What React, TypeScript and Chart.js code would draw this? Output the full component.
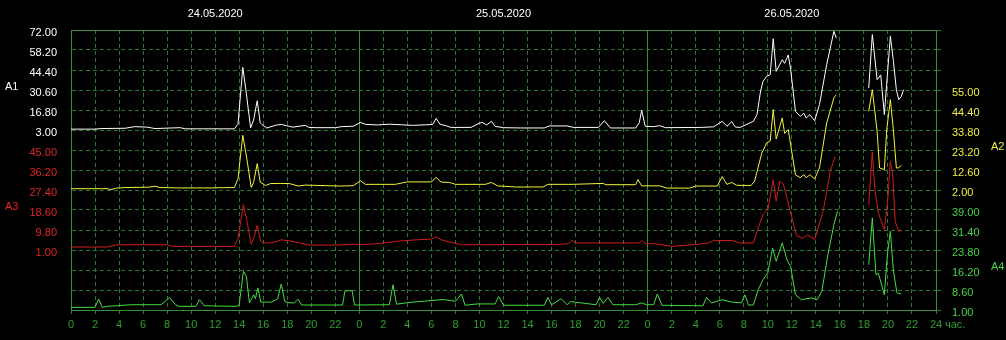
import React, { useEffect, useRef } from 'react';
import { Chart, registerables } from 'chart.js';

Chart.register(...registerables);

// ---------- text ----------
const dates = ['24.05.2020', '25.05.2020', '26.05.2020'];
const unitLabel = 'час.';
const hoursPerDay = 24;
const totalHours = 72;

// ---------- axis tick labels (top to bottom of each band) ----------
const a1Ticks = [72.0, 58.2, 44.4, 30.6, 16.8, 3.0];
const a2Ticks = [55.0, 44.4, 33.8, 23.2, 12.6, 2.0];
const a3Ticks = [45.0, 36.2, 27.4, 18.6, 9.8, 1.0];
const a4Ticks = [39.0, 31.4, 23.8, 16.2, 8.6, 1.0];

// ---------- series data ----------
const a1Hours = [0, 2, 2.5, 4.5, 5.3, 6.3, 7, 9.1, 9.5, 13.6, 13.9, 14.3, 14.6, 14.95, 15.2, 15.5, 15.75, 15.9, 16.3, 17, 17.5, 18.2, 18.5, 19.5, 19.8, 20.4, 22, 22.5, 23.5, 24.1, 24.5, 25.5, 26.5, 27.5, 28.5, 29.5, 30.1, 30.4, 30.7, 31.2, 31.6, 33.3, 33.8, 34.2, 34.6, 35, 35.3, 36, 37.5, 39.4, 39.8, 41.3, 41.8, 43.9, 44.4, 44.9, 47, 47.3, 47.5, 47.8, 48.5, 49, 49.5, 52.5, 53.5, 54.2, 54.6, 55, 55.3, 55.7, 56.8, 57.1, 57.4, 57.6, 57.9, 58.2, 58.45, 58.7, 59.2, 59.4, 59.7, 59.9, 60.3, 60.7, 61, 61.2, 61.5, 61.9, 62.3, 62.9, 63.5, 63.7, 65, 66.4, 66.7, 67.1, 67.4, 67.7, 68.2, 68.45, 68.7, 68.9, 69.1, 69.3];
const a1Values = [3.6, 3.6, 4.0, 4.2, 5.3, 5.0, 4.0, 4.6, 3.8, 3.8, 7, 46.2, 28, 4.4, 10, 23.2, 8, 6.7, 4.4, 6.2, 6.9, 5.4, 5.0, 6.2, 4.8, 4.6, 4.6, 5.3, 5.6, 8.3, 6.9, 6.5, 7.0, 6.6, 6.2, 6.6, 6.8, 11, 7, 6.0, 4.8, 4.8, 7, 8.3, 6.5, 9, 5.5, 4.6, 4.4, 4.4, 5.8, 5.8, 4.8, 4.8, 9.4, 4.4, 4.4, 8, 16.6, 5.5, 5.3, 6.0, 4.6, 4.8, 5.2, 9, 5.5, 8.8, 5, 4.8, 9, 13.6, 30, 36.6, 40, 41.2, 66, 43.5, 51.5, 49, 54.8, 45, 15.9, 12.4, 14.6, 11.3, 13.6, 9.4, 20.5, 48.1, 71.1, 66.5, null, 32, 68.8, 37.7, 41, 13.6, 67.7, 51, 30.8, 23.9, 26, 30.8];

const a2Hours = [0, 3, 3.3, 3.8, 4.5, 6.5, 7, 7.4, 9, 11.5, 13.6, 13.9, 14.3, 14.6, 15, 15.2, 15.5, 15.75, 16.2, 16.6, 17.4, 18.2, 18.9, 19.5, 22.4, 23.5, 24.1, 24.5, 27, 28, 30, 30.4, 30.8, 31.5, 32, 34.5, 35, 35.5, 37, 39.3, 39.7, 41.8, 44.3, 44.5, 47, 47.2, 47.5, 49, 49.6, 51.5, 52, 53.8, 54.2, 54.6, 55, 55.4, 56.6, 56.9, 57.5, 57.9, 58.2, 58.45, 58.7, 59.2, 59.4, 59.7, 60.3, 60.7, 61, 61.2, 61.5, 61.9, 62.3, 62.9, 63.5, 63.7, 65, 66.4, 66.7, 67.1, 67.3, 67.7, 67.9, 68.2, 68.45, 68.7, 68.9, 69.1];
const a2Values = [2.7, 2.7, 2.2, 3.0, 3.3, 3.5, 4.0, 3.3, 3.1, 3.1, 3.3, 8, 31, 20, 3.4, 6, 16, 6.2, 4.4, 5.4, 5.5, 5.4, 4.1, 4.6, 4.1, 4.3, 6.9, 5.0, 5.0, 6.3, 6.3, 8.7, 6.2, 6.0, 5.0, 5.0, 6.0, 4.2, 3.6, 3.6, 5.0, 5.0, 5.5, 4.8, 4.8, 7.5, 4.2, 4.2, 3.0, 3.0, 4.1, 4.1, 9.1, 5, 6, 4.5, 4.4, 6.7, 21.6, 26.9, 28, 44.6, 29, 40.2, 32, 34, 10.1, 8.5, 10.1, 8.5, 10.1, 7.9, 13.7, 37.5, 50.8, 52.5, null, 43.7, 55.2, 33, 13.7, 12.8, 34, 49.9, 34, 13.7, 13.7, 15.1];

const a3Hours = [0, 3, 3.8, 8, 8.5, 13.6, 13.9, 14.35, 14.6, 15, 15.2, 15.5, 15.8, 16.2, 16.8, 17.5, 18.2, 19.1, 19.8, 22.4, 23.5, 24, 25, 26, 27.5, 28.8, 30, 30.4, 30.8, 31.5, 32.5, 37, 40.5, 41.4, 41.7, 42, 47.3, 47.5, 47.8, 48.5, 50, 51.5, 53, 53.5, 55, 55.7, 56.8, 57.2, 57.6, 58, 58.45, 58.7, 59, 59.3, 59.8, 60.4, 60.9, 61.3, 61.9, 62.6, 63.2, 63.6, 65, 66.4, 66.7, 66.9, 67.2, 67.7, 68, 68.2, 68.4, 68.6, 68.9, 69.1];
const a3Values = [2.3, 2.3, 3.3, 3.3, 2.6, 2.6, 6, 20.9, 15, 3.6, 6, 11.9, 4.7, 4.0, 4.3, 5.5, 5.0, 4.0, 3.2, 3.2, 3.6, 3.4, 3.6, 4.1, 5.0, 5.5, 5.8, 6.9, 5.5, 4.5, 3.3, 3.4, 3.4, 3.8, 5.3, 4.1, 4.1, 5.1, 3.8, 3.8, 2.6, 3.2, 4.0, 5.1, 5.2, 4.1, 4.1, 10.7, 16.6, 18.7, 31.9, 22.5, 31.2, 30, 19.5, 7.2, 6.2, 7.7, 5.6, 18, 35.6, 42.2, null, 20.9, 44.1, 28, 17.3, 9.9, 24, 40, 34, 13.6, 9.2, 9.5];

const a4Hours = [0, 2, 2.3, 2.6, 3, 5, 7.5, 8.2, 8.7, 9, 10.4, 10.7, 11.1, 13.8, 14, 14.35, 14.6, 14.85, 15.2, 15.35, 15.55, 15.8, 16.7, 17.2, 17.5, 17.8, 18.2, 18.6, 18.9, 19.2, 22.6, 22.8, 23.4, 23.6, 26.5, 26.8, 27.1, 28, 30, 31, 32, 32.5, 32.8, 33.8, 35.3, 35.6, 36, 39.4, 39.7, 40, 40.8, 41.3, 41.6, 43.7, 44, 44.3, 44.7, 45.1, 47, 47.5, 47.9, 48.5, 48.8, 49.2, 52.6, 52.9, 53.3, 54.2, 55, 55.8, 56.1, 56.4, 56.8, 57.2, 57.6, 58, 58.4, 58.7, 59.2, 59.6, 59.9, 60.3, 60.8, 61.6, 62.1, 62.5, 63, 63.5, 63.8, 65, 66.4, 66.7, 67, 67.2, 67.7, 67.95, 68.2, 68.45, 68.75, 69.1];
const a4Values = [2.0, 2.0, 5.2, 2.0, 2.4, 3.0, 3.0, 5.8, 3.0, 2.4, 2.4, 4.9, 2.6, 2.4, 3.0, 15.7, 13.8, 3.7, 6.8, 5.3, 9.4, 4.0, 4.0, 5.2, 10.9, 4.2, 3.7, 3.7, 5.1, 2.9, 2.9, 8.3, 8.3, 2.9, 3.0, 10.6, 3.2, 3.8, 4.6, 5.0, 4.3, 7.1, 2.8, 3.3, 3.3, 6.1, 2.8, 2.8, 5.8, 3.0, 5.3, 3.0, 4.2, 3.0, 5.8, 3.5, 5.8, 3.0, 3.0, 3.7, 3.0, 3.0, 7.1, 2.8, 2.6, 5.8, 3.7, 4.9, 4.0, 3.7, 6.8, 2.8, 3.0, 8.7, 12.5, 15.1, 24.6, 19.5, 26.5, 20, 17.5, 6.8, 4.9, 5.6, 4.9, 8.1, 22, 33.4, 38.5, null, 18.2, 36, 14.4, 15, 6.8, 22, 30.9, 16, 7.5, 7.1];

// ---------- styling ----------
const GRID_STEPS = 14;
const FONT_FAMILY = '"Liberation Sans", Arial, sans-serif';
const FONT_SIZE = 11;
const gridGreen = '#2d7a2d';
const borderGreen = '#3a8f3a';
const axisTextGreen = '#2f9f2f';

const series = [
  { name: 'A1', hours: a1Hours, values: a1Values, ticks: a1Ticks, top: 14, side: 'left', line: '#ffffff', text: '#ffffff' },
  { name: 'A2', hours: a2Hours, values: a2Values, ticks: a2Ticks, top: 11, side: 'right', line: '#f4f43c', text: '#f0f040' },
  { name: 'A3', hours: a3Hours, values: a3Values, ticks: a3Ticks, top: 8, side: 'left', line: '#d01c1c', text: '#e02424' },
  { name: 'A4', hours: a4Hours, values: a4Values, ticks: a4Ticks, top: 5, side: 'right', line: '#44dd44', text: '#44d444' },
];

function rangeFor(ticks: number[], top: number) {
  const step = ticks[0] - ticks[1];
  const max = ticks[0] + (GRID_STEPS - top) * step;
  return { min: max - GRID_STEPS * step, max };
}

function bandLabel(side: string, g: number) {
  for (const s of series) {
    if (s.side !== side) continue;
    const idx = s.top - g;
    if (idx >= 0 && idx < s.ticks.length) return { text: s.ticks[idx].toFixed(2), color: s.text };
  }
  return { text: '', color: 'transparent' };
}

const sideLabelPlugin = {
  id: 'sideLabels',
  afterDraw(chart: any) {
    const { ctx, scales } = chart;
    const yL = scales.yL;
    const x = scales.x;
    ctx.save();
    ctx.font = `${FONT_SIZE}px ${FONT_FAMILY}`;
    ctx.textBaseline = 'middle';
    ctx.textAlign = 'left';
    for (const s of series) {
      ctx.fillStyle = s.text;
      const y = yL.getPixelForValue(s.top - 3) - 3;
      ctx.fillText(s.name, s.side === 'left' ? 5 : chart.width - 15, y);
    }
    ctx.fillStyle = axisTextGreen;
    ctx.fillText(unitLabel, x.getPixelForValue(totalHours) + 9, x.top + 15);
    ctx.restore();
  },
};

export default function App() {
  const canvasRef = useRef<HTMLCanvasElement | null>(null);

  useEffect(() => {
    const canvas = canvasRef.current;
    if (!canvas) return;

    const datasets = series.map((s) => ({
      label: s.name,
      data: s.hours.map((h, i) => ({ x: h, y: s.values[i] })),
      borderColor: s.line,
      backgroundColor: s.line,
      borderWidth: 1,
      pointRadius: 0,
      tension: 0,
      spanGaps: false,
      yAxisID: 's' + s.name,
    }));

    const hiddenScales: any = {};
    for (const s of series) {
      const r = rangeFor(s.ticks, s.top);
      hiddenScales['s' + s.name] = { type: 'linear', display: false, min: r.min, max: r.max };
    }

    const font = { family: FONT_FAMILY, size: FONT_SIZE };

    const chart = new Chart(canvas, {
      type: 'line',
      data: { datasets },
      plugins: [sideLabelPlugin],
      options: {
        animation: false,
        responsive: false,
        maintainAspectRatio: false,
        devicePixelRatio: 1,
        layout: { padding: 0 },
        plugins: { legend: { display: false }, tooltip: { enabled: false } },
        scales: {
          x: {
            type: 'linear',
            position: 'bottom',
            min: 0,
            max: totalHours,
            afterFit: (sc: any) => { sc.height = 30; },
            ticks: {
              stepSize: 2,
              autoSkip: false,
              maxRotation: 0,
              padding: 4,
              color: axisTextGreen,
              font,
              callback: (v: any) => (v === totalHours ? String(hoursPerDay) : String(v % hoursPerDay)),
            },
            grid: { color: gridGreen, lineWidth: 1, drawTicks: true, tickLength: 4, tickColor: gridGreen },
            border: { display: true, color: borderGreen, dash: [4, 3] },
          },
          xTop: {
            type: 'linear',
            position: 'top',
            min: 0,
            max: totalHours,
            afterFit: (sc: any) => { sc.height = 30; },
            afterBuildTicks: (sc: any) => {
              const t = [];
              for (let v = 0; v <= totalHours; v += hoursPerDay / 2) t.push({ value: v });
              sc.ticks = t;
            },
            ticks: {
              autoSkip: false,
              maxRotation: 0,
              padding: 9,
              color: '#ffffff',
              font,
              callback: (v: any) => (v % hoursPerDay === hoursPerDay / 2 ? dates[Math.floor(v / hoursPerDay)] : ''),
            },
            grid: {
              drawTicks: false,
              lineWidth: 1,
              color: (c: any) => {
                const v = c.tick ? c.tick.value : -1;
                return v > 0 && v < totalHours && v % hoursPerDay === 0 ? borderGreen : 'rgba(0,0,0,0)';
              },
            },
            border: { display: true, color: borderGreen },
          },
          yL: {
            type: 'linear',
            position: 'left',
            min: 0,
            max: GRID_STEPS,
            afterFit: (sc: any) => { sc.width = 71; },
            ticks: {
              stepSize: 1,
              autoSkip: false,
              padding: 14,
              labelOffset: 3,
              font,
              callback: (v: any) => bandLabel('left', v).text,
              color: (c: any) => bandLabel('left', c.tick ? c.tick.value : -1).color,
            },
            grid: { color: gridGreen, lineWidth: 1, drawTicks: false },
            border: { display: true, color: borderGreen, dash: [4, 3] },
          },
          yR: {
            type: 'linear',
            position: 'right',
            min: 0,
            max: GRID_STEPS,
            afterFit: (sc: any) => { sc.width = 70; },
            ticks: {
              stepSize: 1,
              autoSkip: false,
              padding: 11,
              labelOffset: 3,
              font,
              callback: (v: any) => bandLabel('right', v).text,
              color: (c: any) => bandLabel('right', c.tick ? c.tick.value : -1).color,
            },
            grid: { drawOnChartArea: false, drawTicks: true, tickLength: 5, color: gridGreen, tickColor: gridGreen },
            border: { display: true, color: borderGreen },
          },
          ...hiddenScales,
        },
      } as any,
    });

    return () => chart.destroy();
  }, []);

  return (
    <div style={{ position: 'absolute', left: 0, top: 0, width: 1006, height: 340, background: '#000' }}>
      <canvas ref={canvasRef} width={1006} height={340} style={{ display: 'block' }} />
    </div>
  );
}
